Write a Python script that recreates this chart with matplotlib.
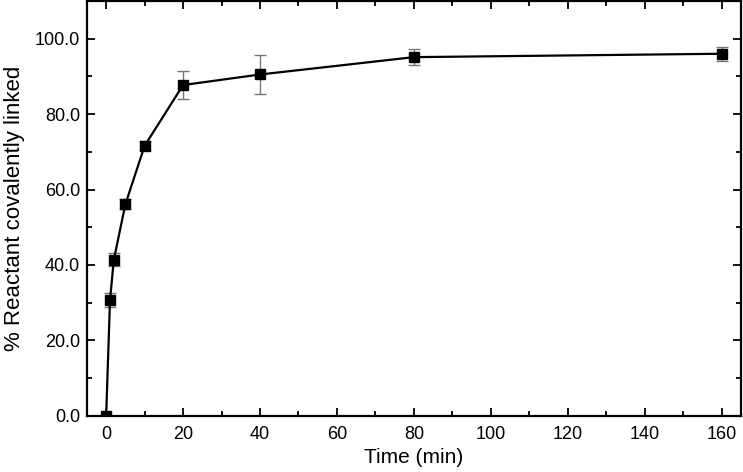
import matplotlib
matplotlib.use("Agg")
import matplotlib.pyplot as plt
from matplotlib.ticker import MultipleLocator, FormatStrFormatter

plt.rcParams['font.family'] = ['Liberation Sans', 'DejaVu Sans']

# data
time_min = [0, 1, 2, 5, 10, 20, 40, 80, 160]
percent_linked = [0.0, 30.7, 41.4, 56.1, 71.6, 87.7, 90.5, 95.1, 96.0]
error = [0.0, 1.8, 1.7, 1.3, 1.2, 3.8, 5.3, 2.2, 1.8]

fig = plt.figure(figsize=(7.43, 4.72), dpi=100)
ax = fig.add_axes([0.117, 0.119, 0.880, 0.879])

# error bars in gray, behind the line
ax.errorbar(time_min, percent_linked, yerr=error, fmt='none', ecolor='#777777',
            elinewidth=1.0, capsize=4, capthick=1.0, zorder=2)
ax.plot(time_min, percent_linked, color='black', lw=1.6, marker='s',
        markersize=7.5, zorder=3)

ax.set_xlim(-5, 165)
ax.set_ylim(0, 110)
ax.xaxis.set_major_locator(MultipleLocator(20))
ax.xaxis.set_minor_locator(MultipleLocator(10))
ax.yaxis.set_major_locator(MultipleLocator(20))
ax.yaxis.set_minor_locator(MultipleLocator(10))
ax.yaxis.set_major_formatter(FormatStrFormatter('%.1f'))

ax.tick_params(which='both', direction='in', top=True, right=True, width=1.3)
ax.tick_params(which='major', length=6, labelsize=13)
ax.tick_params(which='minor', length=3.5)
ax.tick_params(axis='x', which='major', pad=7)
ax.tick_params(axis='y', which='major', pad=5)
for s in ax.spines.values():
    s.set_linewidth(1.6)

ax.set_xlabel('Time (min)', fontsize=15, labelpad=4)
ax.set_ylabel('% Reactant covalently linked', fontsize=16, labelpad=7)

fig.savefig('out.png', dpi=100)
